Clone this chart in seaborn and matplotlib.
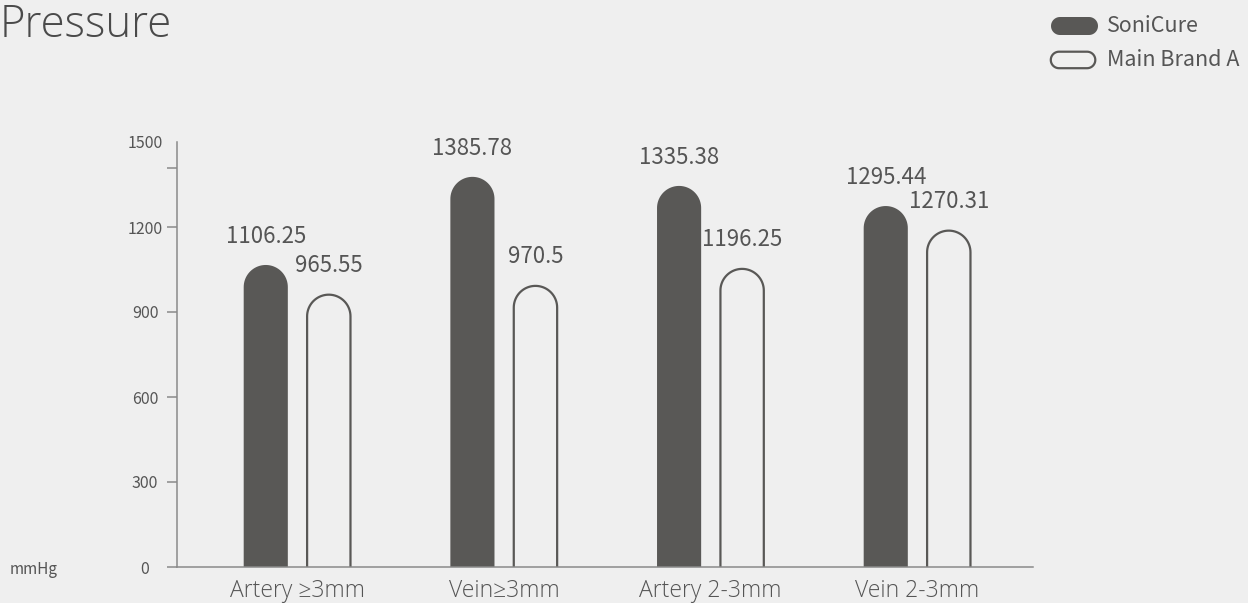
import matplotlib
matplotlib.use("Agg")
import numpy as np
import pandas as pd
import matplotlib.pyplot as plt
import seaborn as sns
from matplotlib.patches import Polygon
from matplotlib.transforms import IdentityTransform

# ---------------- data ----------------
categories = ["Artery ≥3mm", "Vein≥3mm", "Artery 2-3mm", "Vein 2-3mm"]
series_names = ["SoniCure", "Main Brand A"]
# bar heights as drawn against the y axis (mmHg)
soni_heights = [1066, 1377, 1345, 1274]
brand_heights = [964, 995, 1055, 1190]
# value labels printed above the bars
soni_labels = ["1106.25", "1385.78", "1335.38", "1295.44"]
brand_labels = ["965.55", "970.5", "1196.25", "1270.31"]
y_ticks = [0, 300, 600, 900, 1200, 1500]
title = "Pressure"
unit = "mmHg"

# ---------------- style ----------------
BG = "#efefef"
DARK = "#595856"
AXIS = "#8a8a8a"
TEXT = "#555555"
LIGHT_FONT = ["Open Sans", "Noto Sans CJK SC", "DejaVu Sans"]

sns.set_theme(style="white")
plt.rcParams["font.family"] = ["Noto Sans CJK SC", "DejaVu Sans"]

W, H = 1248, 603
fig = plt.figure(figsize=(W / 100, H / 100), dpi=100, facecolor=BG)
ax = fig.add_axes([177 / W, 36 / H, (1033 - 177) / W, (567 - 142) / H])
ax.set_facecolor(BG)

df = pd.DataFrame({
    "category": categories * 2,
    "series": [series_names[0]] * len(categories) + [series_names[1]] * len(categories),
    "value": soni_heights + brand_heights,
})

palette = {series_names[0]: DARK, series_names[1]: BG}
sns.barplot(data=df, x="category", y="value", hue="series", order=categories,
            hue_order=series_names, palette=palette, width=0.61, gap=0.30,
            saturation=1, errorbar=None, legend=False, ax=ax)

xlim = (-0.582, 3.56)
ylim = (0, 1500)
ax.set_xlim(*xlim)
ax.set_ylim(*ylim)

ax_w_px = 1033 - 177
ax_h_px = 567 - 142
xdpp = (xlim[1] - xlim[0]) / ax_w_px
ydpp = (ylim[1] - ylim[0]) / ax_h_px
aspect = ydpp / xdpp


def rounded_bar(x0, w, h, ext=200, n=40):
    r = w / 2
    ry = r * aspect
    cx = x0 + r
    t = np.linspace(np.pi, 0, n)
    arc = np.column_stack([cx + r * np.cos(t), h - ry + ry * np.sin(t)])
    verts = np.vstack([[x0, -ext], arc, [x0 + w, -ext]])
    return verts


styles = [dict(facecolor=DARK, edgecolor="none", lw=0),
          dict(facecolor=BG, edgecolor=DARK, lw=1.6)]
label_sets = [soni_labels, brand_labels]

for cont, st, labs in zip(ax.containers, styles, label_sets):
    for rect, lab in zip(cont, labs):
        x0, w, h = rect.get_x(), rect.get_width(), rect.get_height()
        rect.set_visible(False)
        outlined = st["lw"] > 0
        ww = w - 0.75 * xdpp if outlined else w
        xx = x0 + (w - ww) / 2
        hh = h - 0.8 * ydpp if outlined else h
        poly = Polygon(rounded_bar(xx, ww, hh), closed=True, joinstyle="round", **st)
        ax.add_patch(poly)
        ax.annotate(lab, (x0 + w / 2, h), xytext=(0, 16), textcoords="offset points",
                    ha="center", va="baseline", fontsize=16, color=TEXT)

# axes styling
for s in ["top", "right"]:
    ax.spines[s].set_visible(False)
for s in ["left", "bottom"]:
    ax.spines[s].set_color(AXIS)
    ax.spines[s].set_linewidth(1.1)

ax.set_yticks(y_ticks)
ax.set_yticklabels([str(t) for t in y_ticks])
ax.tick_params(axis="y", which="major", left=True, length=7.2, width=1.1, color=AXIS,
               pad=15.8, labelsize=11.5, labelcolor=TEXT)
for lab in ax.get_yticklabels():
    lab.set_horizontalalignment("center")
ax.yaxis.get_major_ticks()[-1].tick1line.set_visible(False)
ax.set_yticks([1408], minor=True)
ax.tick_params(axis="y", which="minor", left=True, length=7.2, width=1.1, color=AXIS)

ax.tick_params(axis="x", bottom=False, length=0, pad=8.5, labelsize=16.5, labelcolor=TEXT)
for lab in ax.get_xticklabels():
    lab.set_fontfamily(LIGHT_FONT)
    lab.set_fontweight("light")
ax.set_xlabel("")
ax.set_ylabel("")
ax.grid(False)

# title and unit
fig.text(0.0, (H - 37) / H, title, fontsize=31.5, fontweight="light", va="baseline",
         ha="left", color="#4a4a4a", family=LIGHT_FONT)
fig.text(10 / W, 33 / H, unit, fontsize=11, va="center", ha="left", color=TEXT)


# legend (pill markers)
def pill(x0, y0, w, h, n=30):
    r = h / 2
    t1 = np.linspace(np.pi / 2, 3 * np.pi / 2, n)
    left = np.column_stack([x0 + r + r * np.cos(t1), y0 + r + r * np.sin(t1)])
    t2 = np.linspace(-np.pi / 2, np.pi / 2, n)
    right = np.column_stack([x0 + w - r + r * np.cos(t2), y0 + r + r * np.sin(t2)])
    return np.vstack([left, right])


tr = IdentityTransform()
fig.add_artist(Polygon(pill(1051, 568, 47, 18), closed=True, transform=tr,
                       facecolor=DARK, edgecolor="none"))
fig.add_artist(Polygon(pill(1050.8, 534.8, 44.5, 16.5), closed=True, transform=tr,
                       facecolor=BG, edgecolor=DARK, lw=1.6))
fig.text(1107 / W, 577 / H, series_names[0], fontsize=15.5, va="center", ha="left", color=TEXT)
fig.text(1107 / W, 543 / H, series_names[1], fontsize=15.5, va="center", ha="left", color=TEXT)

fig.savefig("out.png", dpi=100, facecolor=BG)
